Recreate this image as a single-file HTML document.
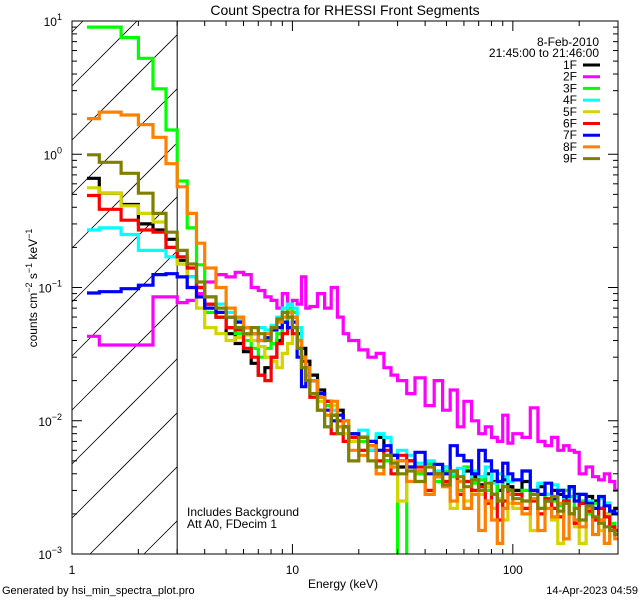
<!DOCTYPE html>
<html><head><meta charset="utf-8">
<style>
html,body{margin:0;padding:0;background:#fff;width:640px;height:600px;overflow:hidden;}
svg{display:block;font-family:"Liberation Sans",sans-serif;}
</style></head>
<body>
<svg id="chart" width="640" height="600" viewBox="0 0 640 600" xmlns="http://www.w3.org/2000/svg">
<rect x="0" y="0" width="640" height="600" fill="#fff"/>
<text x="345" y="15" font-size="14" text-anchor="middle">Count Spectra for RHESSI Front Segments</text>
<g id="hatch"></g>
<g id="series"></g>
<g id="axes"></g>
<text x="599" y="46" font-size="12" text-anchor="end">8-Feb-2010</text>
<text x="599" y="57" font-size="12" text-anchor="end">21:45:00 to 21:46:00</text>
<g id="legend"></g>
<text x="187" y="516" font-size="12">Includes Background</text>
<text x="187" y="528" font-size="12">Att A0, FDecim 1</text>
<text x="343" y="588" font-size="12" text-anchor="middle">Energy (keV)</text>
<text transform="translate(37,288) rotate(-90)" font-size="12" text-anchor="middle">counts cm<tspan font-size="9" dy="-5">−2</tspan><tspan dy="5"> s</tspan><tspan font-size="9" dy="-5">−1</tspan><tspan dy="5"> keV</tspan><tspan font-size="9" dy="-5">−1</tspan></text>
<text x="2" y="594" font-size="11">Generated by hsi_min_spectra_plot.pro</text>
<text x="638" y="594" font-size="11" text-anchor="end">14-Apr-2023 04:59</text>
</svg>
<script>
const edges=[1.17,1.33,1.67,2,2.33,2.67,3,3.33,3.67,4,4.5,5,5.5,6,6.5,7,7.5,8,8.5,9,9.5,10,10.5,11,11.5,12,13,14,15,16,17,18,20,22,24,26,28,30,33,36,40,44,48,52,56,60,65,70,75,80,85,90,95,100,110,120,130,140,150,160,170,180,190,200,215,230,245,260,275,290,300];
const seriesNames=["1F","2F","3F","4F","5F","6F","7F","8F","9F"];
const seriesColors=["#000000","#ff00ff","#00ff00","#00ffff","#d4d400","#ff0000","#0000ff","#ff8000","#808000"];
const s1F=[0.66,0.51,0.42,0.30,0.27,0.23, 0.16,0.12,0.10,0.075,0.06,0.045,0.038,0.033,0.027,0.022,0.025,0.03,0.04,0.055,0.065, 0.06,0.045,0.035,0.028,0.022,0.017,0.014,0.011,0.012,0.009,0.008, 0.0075,0.006,0.0075,0.005,0.0055,0.0045,0.005,0.0042,0.0048,0.0038,0.0045,0.004,0.0035,0.0042,0.0038,0.0033,0.004,0.0035,0.003,0.0036,0.0032, 0.003,0.0035,0.0028,0.0032,0.0025,0.003,0.0028,0.0026,0.0032,0.0028,0.0024,0.0027,0.0025,0.0022,0.0024,0.002,0.0022];
const s2F=[0.043,0.037,0.037,0.037,0.085,0.085, 0.077,0.08,0.09,0.11,0.125,0.12,0.13,0.125,0.1,0.095,0.085,0.08,0.07,0.09,0.075, 0.08,0.075,0.12,0.07,0.072,0.09,0.07,0.1,0.06,0.045,0.04, 0.034,0.03,0.032,0.025,0.022,0.02,0.016,0.021,0.013,0.02,0.012,0.017,0.009,0.014,0.01,0.008,0.009,0.0075,0.007,0.011,0.0068, 0.008,0.0075,0.0125,0.007,0.0065,0.0075,0.006,0.0065,0.006,0.0058,0.004,0.0045,0.0038,0.0036,0.004,0.0035,0.003];
const s3F=[9.0,9.0,7.5,5.25,3.1,1.52, 0.63,0.28,0.148,0.065,0.06,0.05,0.045,0.04,0.035,0.03,0.035,0.038,0.045,0.055,0.07, 0.065,0.04,0.03,0.025,0.02,0.016,0.013,0.012,0.009,0.01,0.008, 0.007,0.0065,0.006,0.005,0.005,0.0009,0.0045,0.004,0.0048,0.0035,0.0042,0.0038,0.003,0.0045,0.0034,0.0036,0.003,0.0028,0.0035,0.0032,0.003, 0.0028,0.003,0.0026,0.0022,0.0028,0.0025,0.0023,0.003,0.0027,0.0022,0.0025,0.002,0.0024,0.0018,0.002,0.0017,0.0015];
const s4F=[0.27,0.28,0.25,0.19,0.19,0.17, 0.15,0.12,0.1,0.085,0.075,0.065,0.058,0.05,0.045,0.05,0.048,0.052,0.06,0.07,0.075, 0.07,0.05,0.03,0.022,0.02,0.015,0.009,0.012,0.008,0.01,0.007, 0.0085,0.006,0.008,0.0075,0.0045,0.006,0.0055,0.0048,0.005,0.0042,0.0045,0.004,0.0044,0.0035,0.0042,0.0038,0.0045,0.0034,0.004,0.0038,0.0035, 0.0036,0.0042,0.003,0.0034,0.0028,0.0033,0.003,0.0025,0.0031,0.0027,0.0028,0.0025,0.0022,0.0026,0.0024,0.0021,0.002];
const s5F=[0.56,0.51,0.41,0.36,0.31,0.2, 0.15,0.1,0.07,0.05,0.045,0.04,0.042,0.044,0.04,0.036,0.03,0.028,0.025,0.032,0.038, 0.05,0.04,0.03,0.02,0.016,0.014,0.011,0.013,0.01,0.008,0.007, 0.006,0.007,0.004,0.006,0.005,0.0025,0.0045,0.0035,0.0028,0.004,0.0032,0.0022,0.0035,0.0025,0.003,0.0028,0.0032,0.0022,0.0026,0.0018,0.0024, 0.0022,0.0025,0.0015,0.002,0.0022,0.0018,0.0012,0.0024,0.002,0.0016,0.0012,0.0022,0.0018,0.0015,0.002,0.0016,0.0014];
const s6F=[0.49,0.386,0.32,0.27,0.26,0.2, 0.17,0.14,0.1,0.075,0.06,0.05,0.048,0.035,0.03,0.022,0.02,0.03,0.038,0.045,0.05, 0.045,0.035,0.028,0.02,0.015,0.012,0.014,0.008,0.01,0.007,0.0075, 0.006,0.0065,0.005,0.006,0.004,0.0055,0.005,0.0045,0.003,0.004,0.0035,0.0042,0.0028,0.0035,0.003,0.0032,0.0024,0.0028,0.0018,0.0025,0.003, 0.0028,0.0022,0.0025,0.002,0.0026,0.0022,0.0019,0.0025,0.002,0.0017,0.0024,0.0021,0.0018,0.0022,0.0019,0.0016,0.0015];
const s7F=[0.091,0.093,0.098,0.104,0.125,0.127, 0.12,0.1,0.085,0.07,0.065,0.06,0.055,0.05,0.045,0.04,0.042,0.048,0.05,0.055,0.05, 0.055,0.03,0.018,0.025,0.02,0.016,0.012,0.01,0.011,0.009,0.008, 0.0075,0.007,0.006,0.0065,0.0055,0.005,0.0045,0.0058,0.004,0.0047,0.004,0.0065,0.0055,0.005,0.004,0.006,0.005,0.0042,0.0035,0.0048,0.004, 0.0036,0.0042,0.003,0.0028,0.0034,0.0026,0.003,0.0027,0.0032,0.0025,0.0028,0.0024,0.0022,0.0027,0.0023,0.0021,0.002];
const s8F=[1.85,2.07,1.97,1.67,1.34,0.85, 0.57,0.36,0.215,0.14,0.1,0.07,0.06,0.05,0.045,0.04,0.045,0.05,0.055,0.06,0.065, 0.06,0.04,0.03,0.025,0.02,0.015,0.011,0.014,0.009,0.01,0.006, 0.0055,0.0065,0.004,0.0055,0.0045,0.005,0.0035,0.0042,0.0028,0.0038,0.0032,0.0025,0.0035,0.0022,0.0028,0.0015,0.0025,0.0018,0.0012,0.0022,0.0028, 0.0024,0.002,0.0026,0.0015,0.0022,0.0019,0.0024,0.0013,0.002,0.0018,0.0016,0.0022,0.0014,0.0018,0.0012,0.0015,0.0013];
const s9F=[0.99,0.87,0.72,0.51,0.36,0.26, 0.19,0.15,0.11,0.085,0.07,0.06,0.05,0.045,0.05,0.045,0.04,0.05,0.058,0.065,0.06, 0.05,0.035,0.025,0.02,0.016,0.012,0.009,0.011,0.008,0.009,0.005, 0.0075,0.005,0.0045,0.0055,0.0048,0.004,0.0042,0.0035,0.0045,0.004,0.0033,0.0042,0.0038,0.0032,0.0036,0.003,0.0034,0.0028,0.0025,0.0032,0.003, 0.0026,0.0025,0.0028,0.0022,0.0025,0.0027,0.0021,0.0024,0.002,0.0022,0.0018,0.0023,0.0019,0.0017,0.0016,0.0015,0.0014];
const seriesValues=[s1F,s2F,s3F,s4F,s5F,s6F,s7F,s8F,s9F];
const xMajorTicks=[1,10,100];
const xTickLabels=["1","10","100"];
const yMajorExps=[-3,-2,-1,0,1];

const NS="http://www.w3.org/2000/svg";
const L=72,R=618,T=21,B=554;
const XMIN=1,XMAX=300,YMIN=1e-3,YMAX=10;
function xs(e){return L+(Math.log10(e)-Math.log10(XMIN))/(Math.log10(XMAX)-Math.log10(XMIN))*(R-L);}
function ys(v){return B-(Math.log10(v)-Math.log10(YMIN))/(Math.log10(YMAX)-Math.log10(YMIN))*(B-T);}
function mk(tag,attrs,parent){const el=document.createElementNS(NS,tag);for(const k in attrs)el.setAttribute(k,attrs[k]);parent.appendChild(el);return el;}
const svg=document.getElementById('chart');
const defs=mk('defs',{},svg);
const cp=mk('clipPath',{id:'plotclip'},defs);
mk('rect',{x:L,y:T,width:R-L,height:B-T},cp);

const hg=document.getElementById('hatch');
const X3=xs(3);
for(let k=-12;k<20;k++){
  const y0=86+54*k;
  const xa=Math.max(L,L+y0-B), xb=Math.min(X3,L+y0-T);
  if(xb-xa<1) continue;
  const ln=mk('line',{x1:xa,y1:y0-(xa-L),x2:xb,y2:y0-(xb-L),stroke:'#000','stroke-width':0.8},hg);
  
  
}
const vl=mk('line',{x1:X3,y1:T,x2:X3,y2:B,stroke:'#000','stroke-width':1},hg);



const sg=document.getElementById('series');
sg.setAttribute('clip-path','url(#plotclip)');
seriesValues.forEach((vals,si)=>{
  const n=Math.min(vals.length,edges.length-1);
  let d='';
  for(let i=0;i<n;i++){
    const v=Math.max(vals[i],YMIN*0.95);
    const y=ys(v).toFixed(1);
    const x0=xs(edges[i]).toFixed(1),x1=xs(edges[i+1]).toFixed(1);
    d+=(i===0?'M':'L')+x0+','+y+'L'+x1+','+y;
  }
  const p=mk('path',{d:d,fill:'none',stroke:seriesColors[si],'stroke-width':3.2,'stroke-linejoin':'miter'},sg);
  
  
});

const ag=document.getElementById('axes');
const frame=mk('rect',{x:L,y:T,width:R-L,height:B-T,fill:'none',stroke:'#000','stroke-width':1},ag);


for(let dec=0;dec<3;dec++){
  for(let m=1;m<10;m++){
    const e=Math.pow(10,dec)*m; if(e>XMAX) break;
    const x=xs(e), len=(m===1)?10:5;
    mk('line',{x1:x,y1:B,x2:x,y2:B-len,stroke:'#000','stroke-width':1},ag);
    mk('line',{x1:x,y1:T,x2:x,y2:T+len,stroke:'#000','stroke-width':1},ag);
  }
}
xMajorTicks.forEach((e,i)=>{
  const t=mk('text',{x:xs(e),y:574,'font-size':12,'text-anchor':'middle'},ag);
  t.textContent=xTickLabels[i];
  
  
});
yMajorExps.forEach(ex=>{
  for(let m=1;m<10;m++){
    const v=Math.pow(10,ex)*m; if(v>YMAX*1.0001) break;
    const y=ys(v), len=(m===1)?10:5;
    mk('line',{x1:L,y1:y,x2:L+len,y2:y,stroke:'#000','stroke-width':1},ag);
    mk('line',{x1:R,y1:y,x2:R-len,y2:y,stroke:'#000','stroke-width':1},ag);
  }
  const t=mk('text',{x:62,y:ys(Math.pow(10,ex))+5,'font-size':12,'text-anchor':'end'},ag);
  
  
  const base=document.createElementNS(NS,'tspan');base.textContent='10';t.appendChild(base);
  const sup=document.createElementNS(NS,'tspan');sup.setAttribute('font-size','9');sup.setAttribute('dy','-6');sup.textContent=(ex<0?'−':'')+Math.abs(ex);t.appendChild(sup);
});

const lg=document.getElementById('legend');
seriesNames.forEach((nm,i)=>{
  const y=65+11.7*i;
  const t=mk('text',{x:577,y:y+4,'font-size':12,'text-anchor':'end'},lg);
  t.textContent=nm;
  
  
  const l=mk('line',{x1:583,y1:y,x2:600,y2:y,stroke:seriesColors[i],'stroke-width':3},lg);
  
  
});
</script>
</body></html>
